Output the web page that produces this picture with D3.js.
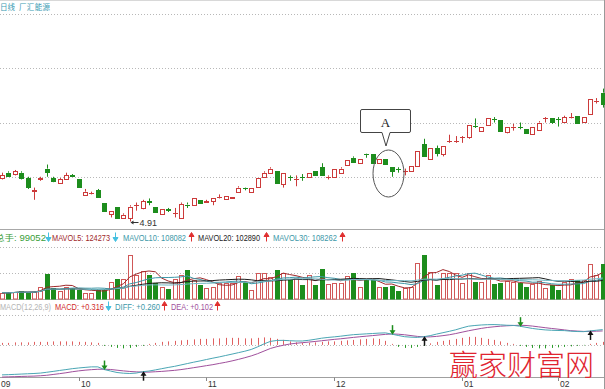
<!DOCTYPE html>
<html><head><meta charset="utf-8">
<script src="https://cdn.jsdelivr.net/npm/d3@7"></script>
<style>
body{margin:0;background:#fff;}
svg{display:block;font-family:"Liberation Sans",Arial,"Noto Sans CJK SC",sans-serif;}
</style></head><body>
<svg id="chart" width="605" height="389"></svg>
<script>
// daily candles
const opens  = [5.23,5.27,5.26,5.27,5.23,5.13,5.22,5.30,5.23,5.19,5.22,5.25,5.22,5.11,5.12,5.14,5.05,4.97,5.02,4.94,
                4.94,5.03,5.01,5.06,5.02,4.96,5.00,4.97,4.94,5.035,5.03,5.07,5.05,5.06,5.09,5.08,5.08,5.13,5.155,5.13,
                5.16,5.24,5.27,5.28,5.19,5.235,5.22,5.235,5.24,5.28,5.31,5.24,5.24,5.27,5.32,5.38,5.34,5.405,5.41,5.34,
                5.37,5.31,5.295,5.28,5.28,5.32,5.48,5.37,5.45,5.41,5.50,5.50,5.53,5.53,5.615,5.58,5.62,5.665,5.66,5.57,
                5.61,5.605,5.59,5.56,5.59,5.67,5.67,5.665,5.64,5.68,5.69,5.64,5.70,5.80,5.86];
const highs  = [5.27,5.28,5.29,5.28,5.24,5.16,5.24,5.33,5.24,5.23,5.27,5.26,5.22,5.15,5.13,5.15,5.05,4.99,5.02,4.97,
                5.03,5.05,5.07,5.08,5.02,5.00,5.01,5.01,5.05,5.05,5.08,5.07,5.07,5.08,5.11,5.10,5.09,5.17,5.16,5.16,
                5.23,5.28,5.31,5.28,5.27,5.25,5.25,5.26,5.27,5.28,5.34,5.25,5.30,5.31,5.36,5.39,5.37,5.41,5.41,5.37,
                5.37,5.31,5.31,5.30,5.32,5.43,5.52,5.45,5.47,5.47,5.55,5.54,5.54,5.62,5.67,5.61,5.67,5.68,5.66,5.61,
                5.63,5.64,5.59,5.61,5.65,5.68,5.67,5.68,5.69,5.71,5.69,5.68,5.81,5.82,5.89];
const lows   = [5.22,5.24,5.25,5.22,5.15,5.07,5.21,5.24,5.20,5.19,5.22,5.24,5.16,5.11,5.11,5.09,4.99,4.94,4.94,4.94,
                4.91,4.99,5.00,5.03,4.98,4.96,4.98,4.94,4.94,5.01,5.03,5.05,5.05,5.03,5.08,5.08,5.08,5.13,5.14,5.13,
                5.16,5.24,5.27,5.19,5.16,5.21,5.17,5.21,5.24,5.25,5.25,5.22,5.24,5.27,5.32,5.35,5.34,5.38,5.34,5.34,
                5.33,5.24,5.27,5.25,5.28,5.32,5.39,5.37,5.39,5.39,5.49,5.49,5.49,5.52,5.60,5.58,5.62,5.64,5.58,5.56,
                5.58,5.59,5.56,5.56,5.59,5.64,5.63,5.61,5.64,5.67,5.64,5.64,5.70,5.78,5.75];
const closes = [5.25,5.25,5.28,5.23,5.16,5.14,5.23,5.28,5.21,5.22,5.25,5.24,5.16,5.13,5.12,5.09,4.99,4.99,4.94,4.96,
                5.02,5.03,5.06,5.05,4.98,5.00,4.99,4.97,5.04,5.03,5.08,5.05,5.06,5.08,5.09,5.10,5.09,5.16,5.15,5.16,
                5.23,5.27,5.30,5.19,5.27,5.23,5.22,5.23,5.27,5.25,5.25,5.24,5.30,5.30,5.36,5.35,5.37,5.40,5.34,5.37,
                5.33,5.28,5.29,5.28,5.32,5.43,5.39,5.45,5.41,5.47,5.50,5.50,5.53,5.62,5.61,5.61,5.67,5.66,5.58,5.61,
                5.61,5.60,5.56,5.61,5.64,5.67,5.64,5.66,5.68,5.68,5.64,5.68,5.81,5.80,5.78];
const volumes = [18000,17100,20900,22900,18000,20900,35100,71400,31400,23700,35100,31400,25700,16300,16300,27700,27700,49400,56300,56300,
                 125700,68600,80900,68600,44900,35100,27700,56300,68600,82900,54300,40000,30600,35100,44900,44900,44900,65700,49400,25700,
                 75100,75100,63700,82900,73400,54300,59100,40000,68600,40000,84900,42000,46600,46600,65700,75100,33400,54300,54300,33400,
                 35100,37100,22900,30600,35100,102000,125700,77100,40000,75100,74300,75100,44900,75100,49400,49400,68600,42000,46600,52300,
                 49400,44900,35100,42900,52300,30600,40000,25700,49400,56300,54300,54300,100000,68600,99052];
const diffs = [-0.517,-0.513,-0.508,-0.503,-0.498,-0.493,-0.486,-0.472,-0.457,-0.441,-0.426,-0.410,-0.398,-0.388,-0.379,-0.379,-0.425,-0.451,-0.476,-0.488,
               -0.493,-0.486,-0.462,-0.451,-0.431,-0.410,-0.389,-0.370,-0.346,-0.322,-0.298,-0.276,-0.252,-0.229,-0.207,-0.183,-0.159,-0.134,-0.109,-0.079,
               -0.034,0.017,0.060,0.076,0.078,0.072,0.067,0.067,0.079,0.096,0.115,0.128,0.138,0.150,0.164,0.176,0.183,0.190,0.196,0.203,
               0.207,0.185,0.162,0.141,0.133,0.129,0.141,0.159,0.186,0.210,0.234,0.260,0.293,0.322,0.334,0.343,0.348,0.350,0.345,0.338,
               0.336,0.322,0.303,0.283,0.269,0.258,0.252,0.248,0.246,0.236,0.230,0.228,0.240,0.252,0.263];
const deas  = [-0.555,-0.551,-0.548,-0.544,-0.541,-0.538,-0.532,-0.524,-0.510,-0.496,-0.481,-0.463,-0.448,-0.436,-0.427,-0.420,-0.419,-0.424,-0.436,-0.448,
               -0.458,-0.465,-0.469,-0.469,-0.463,-0.457,-0.448,-0.439,-0.426,-0.410,-0.393,-0.376,-0.358,-0.341,-0.320,-0.300,-0.276,-0.250,-0.221,-0.190,
               -0.152,-0.107,-0.062,-0.031,-0.007,0.014,0.028,0.038,0.048,0.059,0.071,0.083,0.095,0.105,0.117,0.129,0.140,0.150,0.160,0.171,
               0.181,0.188,0.184,0.174,0.160,0.146,0.138,0.138,0.146,0.159,0.174,0.195,0.219,0.243,0.264,0.284,0.300,0.312,0.322,0.329,
               0.334,0.338,0.334,0.324,0.310,0.296,0.283,0.271,0.258,0.245,0.238,0.232,0.232,0.236,0.240];
const macdBars = [0.034,0.034,0.043,0.043,0.043,0.052,0.052,0.052,0.060,0.060,0.060,0.060,0.052,0.052,0.043,0.034,-0.017,-0.034,-0.052,-0.060,
                  -0.052,-0.034,-0.017,0.017,0.034,0.052,0.060,0.069,0.078,0.086,0.095,0.103,0.103,0.112,0.112,0.121,0.121,0.121,0.112,0.112,
                  0.121,0.129,0.121,0.103,0.086,0.060,0.043,0.034,0.034,0.043,0.052,0.060,0.060,0.069,0.078,0.086,0.095,0.103,0.112,0.103,
                  0.069,0.017,-0.034,-0.052,-0.052,-0.034,-0.017,0.026,0.052,0.069,0.086,0.103,0.121,0.138,0.138,0.121,0.103,0.086,0.060,0.034,
                  0.017,-0.017,-0.034,-0.052,-0.060,-0.060,-0.052,-0.043,-0.034,-0.026,-0.017,-0.009,0.017,0.034,0.052];

const monthLabels = ["09","10","11","12","01","02"];
const monthIdx = [-0.5,12,32,52,72,87];
const priceGrid = [5.24,5.64,6.04,6.44];
const volGrid = [75000,150000];
const maPeriods = [5,10,20,30];
const maColors = ["#a0282a","#3d98a8","#1a1a1a","#72b8c4"];

const volLegend = [
  {t:"总手: 99052", x:-5, w:51, c:"#3a9e3a", arrow:"down", ax:48},
  {t:"MAVOL5: 124273", x:52, w:58, c:"#a0282a", arrow:"down", ax:115},
  {t:"MAVOL10: 108082", x:123, w:63, c:"#3d98a8", arrow:"up", ax:191},
  {t:"MAVOL20: 102890", x:198, w:62, c:"#222", arrow:"up", ax:266},
  {t:"MAVOL30: 108262", x:273, w:64, c:"#3d98a8", arrow:"up", ax:342}
];
const macdLegend = [
  {t:"MACD(12,26,9)", x:0, w:51, c:"#b4b4b4", arrow:null},
  {t:"MACD: +0.316", x:55, w:49, c:"#d02a2a", arrow:"down", ax:108},
  {t:"DIFF: +0.260", x:115, w:45, c:"#3d98a8", arrow:"up", ax:164},
  {t:"DEA: +0.102", x:171, w:42, c:"#a0509c", arrow:"up", ax:217}
];

const RED = "#cc3a3a", GREEN = "#1d8d1d";
const N = closes.length;
const svg = d3.select("#chart");

const x = d3.scaleLinear().domain([0, N - 1]).range([2, 602.7]);
const priceY = d3.scaleLinear().domain([4.84, 6.44]).range([231, 14]);
const volY = d3.scaleLinear().domain([0, 150000]).range([299, 246.5]);
const macdY = d3.scaleLinear().domain([-0.6, 0.52]).range([379.7, 314.7]);
const px = i => Math.round(x(i)) + 0.5;

// header
svg.append("text").attr("x", 0).attr("y", 10).attr("font-size", 7.5).attr("fill", "#3a9ab2")
  .attr("font-family", "Noto Sans CJK SC").text("日线");
svg.append("text").attr("x", 19).attr("y", 10).attr("font-size", 7.5).attr("fill", "#3a9ab2")
  .attr("font-family", "Noto Sans CJK SC").attr("textLength", 31).text("厂汇能源");
svg.append("line").attr("x1", 0).attr("x2", 605).attr("y1", 0.5).attr("y2", 0.5).attr("stroke", "#d8d8d8");

// grid lines
function dotted(y) {
  svg.append("line").attr("x1", 0).attr("x2", 603).attr("y1", Math.round(y) + 0.5).attr("y2", Math.round(y) + 0.5)
    .attr("stroke", "#b8b8b8").attr("stroke-dasharray", "1,2");
}
priceGrid.forEach(p => dotted(priceY(p)));
volGrid.forEach(v => dotted(volY(v)));
dotted(macdY(0.52));
dotted(macdY(0));

// panel lines
svg.append("line").attr("x1", 0).attr("x2", 605).attr("y1", 229.5).attr("y2", 229.5).attr("stroke", "#a8a8a8");
svg.append("line").attr("x1", 0).attr("x2", 605).attr("y1", 299.5).attr("y2", 299.5).attr("stroke", "#b0b0b0");
svg.append("line").attr("x1", 0).attr("x2", 605).attr("y1", 377.5).attr("y2", 377.5).attr("stroke", "#a0a0a0");
svg.append("line").attr("x1", 604.5).attr("x2", 604.5).attr("y1", 0).attr("y2", 389).attr("stroke", "#999");

// candles
const cg = svg.append("g");
d3.range(N).forEach(i => {
  const up = closes[i] >= opens[i];
  const col = up ? RED : GREEN;
  const cx = px(i);
  const yT = priceY(Math.max(opens[i], closes[i])), yB = priceY(Math.min(opens[i], closes[i]));
  const yH = priceY(highs[i]), yL = priceY(lows[i]);
  cg.append("line").attr("x1", cx).attr("x2", cx).attr("y1", yH).attr("y2", yT).attr("stroke", col);
  cg.append("line").attr("x1", cx).attr("x2", cx).attr("y1", yB).attr("y2", yL).attr("stroke", col);
  if (yB - yT < 1.2) {
    cg.append("line").attr("x1", cx - 2.5).attr("x2", cx + 2.5).attr("y1", Math.round(yT) + 0.5).attr("y2", Math.round(yT) + 0.5).attr("stroke", col);
  } else {
    cg.append("rect").attr("x", cx - 2).attr("y", Math.round(yT) + 0.5).attr("width", 4)
      .attr("height", Math.max(1, Math.round(yB - yT)))
      .attr("fill", up ? "#fff" : col).attr("stroke", col);
  }
});

// low label
const lowI = d3.minIndex(lows);
const lx = px(lowI), ly = Math.round(priceY(lows[lowI])) + 0.5;
svg.append("line").attr("x1", lx + 1).attr("x2", lx + 8).attr("y1", ly).attr("y2", ly).attr("stroke", "#333");
svg.append("path").attr("d", `M${lx},${ly}l3,-2v4z`).attr("fill", "#333");
svg.append("text").attr("x", lx + 9).attr("y", ly + 3.5).attr("font-size", 9).attr("fill", "#333").text(lows[lowI].toFixed(2));

// annotation A
svg.append("path")
  .attr("d", "M362,109.5 H409 Q410.5,109.5 410.5,111 V131 Q410.5,132.5 409,132.5 H390 L386,146 L382,132.5 H362 Q360.5,132.5 360.5,131 V111 Q360.5,109.5 362,109.5 Z")
  .attr("fill", "#fff").attr("stroke", "#444");
svg.append("text").attr("x", 385.5).attr("y", 126.5).attr("text-anchor", "middle").attr("font-size", 13)
  .attr("font-family", "Liberation Serif, serif").attr("fill", "#222").text("A");
svg.append("ellipse").attr("cx", 388.5).attr("cy", 173.5).attr("rx", 15.5).attr("ry", 23.5)
  .attr("fill", "none").attr("stroke", "#555");

// legends
function legend(items, y, ay) {
  items.forEach(d => {
    svg.append("text").attr("x", d.x).attr("y", y).attr("font-size", 8.5).attr("fill", d.c)
      .attr("textLength", d.w).attr("lengthAdjust", "spacingAndGlyphs").text(d.t);
    if (d.arrow) {
      const c = d.arrow === "up" ? "#e03030" : "#45c0e0";
      const a = d.ax + 0.5;
      if (d.arrow === "up") svg.append("path").attr("d", `M${a},${ay}l-2.5,4h5z M${a},${ay + 3}V${ay + 9}`).attr("fill", c).attr("stroke", c).attr("stroke-width", 1);
      else svg.append("path").attr("d", `M${a},${ay + 9}l-2.5,-4h5z M${a},${ay}V${ay + 6}`).attr("fill", c).attr("stroke", c).attr("stroke-width", 1);
    }
  });
}
legend(volLegend, 240.5, 232.5);
legend(macdLegend, 309.5, 301.5);

// volume bars
const vg = svg.append("g");
d3.range(N).forEach(i => {
  const up = closes[i] >= opens[i];
  const col = up ? "#d05858" : GREEN;
  const top = Math.round(volY(volumes[i])) + 0.5;
  vg.append("rect").attr("x", px(i) - 2).attr("y", top).attr("width", 4).attr("height", 299 - top)
    .attr("fill", up ? "#fff" : col).attr("stroke", col);
});

// volume moving averages
maPeriods.forEach((p, k) => {
  const ma = d3.range(N).map(i => d3.mean(volumes.slice(Math.max(0, i - p + 1), i + 1)));
  svg.append("path").datum(ma)
    .attr("d", d3.line().x((d, i) => x(i)).y(d => volY(d)))
    .attr("fill", "none").attr("stroke", maColors[k]).attr("stroke-width", 1);
});

// macd histogram
d3.range(N).forEach(i => {
  const v = macdBars[i];
  svg.append("line").attr("x1", px(i)).attr("x2", px(i)).attr("y1", macdY(0)).attr("y2", macdY(v))
    .attr("stroke", v >= 0 ? "#e06060" : "#2a9a2a");
});
svg.append("path").datum(deas).attr("d", d3.line().x((d, i) => x(i)).y(d => macdY(d)))
  .attr("fill", "none").attr("stroke", "#a0509c");
svg.append("path").datum(diffs).attr("d", d3.line().x((d, i) => x(i)).y(d => macdY(d)))
  .attr("fill", "none").attr("stroke", "#4aa6b4");

// cross arrows
for (let i = 1; i < N; i++) {
  const prev = diffs[i - 1] - deas[i - 1], cur = diffs[i] - deas[i];
  const a = px(i), yl = macdY(diffs[i]);
  if (prev >= 0 && cur < 0) {
    svg.append("path").attr("d", `M${a},${yl - 9}V${yl - 3}`).attr("stroke", "#1d8d1d").attr("stroke-width", 1.5);
    svg.append("path").attr("d", `M${a},${yl + 0.5}l-3,-4.5h6z`).attr("fill", "#1d8d1d");
  } else if (prev < 0 && cur >= 0) {
    svg.append("path").attr("d", `M${a},${yl + 9}V${yl + 3}`).attr("stroke", "#111").attr("stroke-width", 1.5);
    svg.append("path").attr("d", `M${a},${yl - 0.5}l-3,4.5h6z`).attr("fill", "#111");
  }
}

// x axis
monthIdx.forEach((m, k) => {
  const tx = Math.round(x(m)) + 0.5;
  svg.append("line").attr("x1", tx).attr("x2", tx).attr("y1", 377.5).attr("y2", 381).attr("stroke", "#888");
  svg.append("text").attr("x", tx + 1.5).attr("y", 387).attr("font-size", 8.5).attr("fill", "#333").text(monthLabels[k]);
});

// watermark
svg.append("text").attr("x", 449).attr("y", 376).attr("font-size", 29).attr("font-weight", 300)
  .attr("font-family", "Noto Sans CJK SC").attr("fill", "#e02430").text("赢家财富网");
</script>
</body></html>
